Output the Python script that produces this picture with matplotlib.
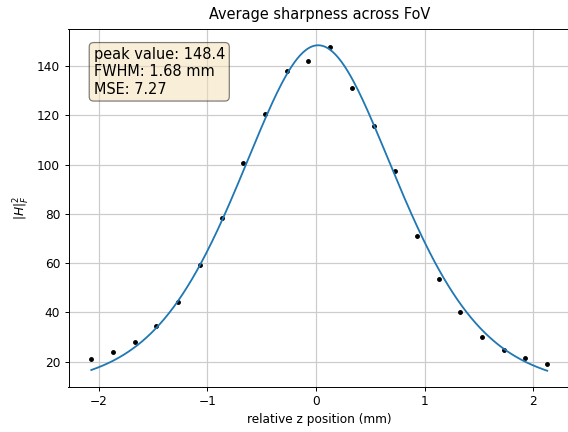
import numpy as np
import matplotlib
matplotlib.use("Agg")
import matplotlib.pyplot as plt

# measured sharpness per z position
z_pos = [-2.07, -1.87, -1.67, -1.47, -1.27, -1.07, -0.87, -0.67, -0.47, -0.27, -0.07,
         0.13, 0.33, 0.53, 0.73, 0.93, 1.13, 1.33, 1.53, 1.73, 1.93, 2.13]
sharpness = [21.1, 23.9, 28.1, 34.6, 44.2, 59.3, 78.3, 100.6, 120.7, 138.0, 141.9,
             147.6, 131.2, 115.6, 97.3, 71.0, 53.5, 40.0, 30.2, 24.6, 21.5, 19.2]

# fitted profile (pseudo-voigt + offset)
fit_offset = 3.6
fit_amp = 144.8
fit_center = 0.02
fit_width = 1.8
fit_eta = 0.5

# numbers shown in the box
peak_value = 148.4
fwhm = 1.68
mse = 7.27

dpi = 87
fig = plt.figure(figsize=(568 / dpi, 432 / dpi), dpi=dpi)
ax = fig.add_axes([68.5 / 568, 45 / 432, 501.5 / 568, 358 / 432])

zz = np.linspace(min(z_pos), max(z_pos), 300)
u = (2 * (zz - fit_center) / fit_width) ** 2
profile = fit_eta / (1 + u) + (1 - fit_eta) * np.exp(-np.log(2) * u)
fit = fit_offset + fit_amp * profile

ax.plot(z_pos, sharpness, "k.")
ax.plot(zz, fit)
ax.grid(True, color="#cccccc", lw=1.0)

txt = f"peak value: {peak_value:.1f}\nFWHM: {fwhm:.2f} mm\nMSE: {mse:.2f}"
ax.text(0.05, 0.95, txt, transform=ax.transAxes, fontsize=12, va="top",
        bbox=dict(boxstyle="round", facecolor="wheat", alpha=0.5))

ax.set_title("Average sharpness across FoV", pad=8)
ax.set_xlabel("relative z position (mm)")
ax.set_ylabel(r"$|H|_F^2$")

fig.savefig("out.png", dpi=dpi)
